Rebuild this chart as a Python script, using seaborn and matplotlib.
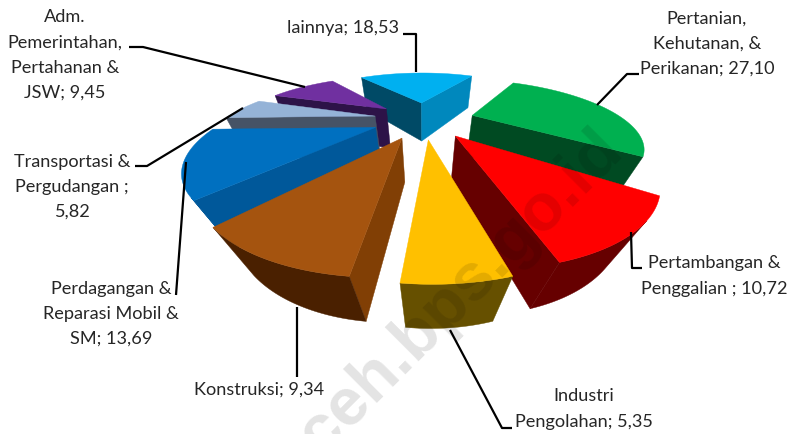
import matplotlib
matplotlib.use("Agg")
import matplotlib.pyplot as plt
import numpy as np
import seaborn as sns

# PDRB shares, clockwise from lainnya
categories = [
    "lainnya",
    "Pertanian",
    "Pertambangan",
    "Industri",
    "Konstruksi",
    "Perdagangan",
    "Transportasi",
    "Adm",
]
values = [18.53, 27.10, 10.72, 5.35, 9.34, 13.69, 5.82, 9.45]

top_colors = ["#00B0F0", "#00B050", "#FF0000", "#FFC000", "#A5540F", "#0070C0", "#95B3D7", "#7030A0"]
rim_colors = ["#005A80", "#004A22", "#660000", "#665000", "#4A2000", "#00589A", "#465366", "#2D1348"]
cut_start_colors = ["#004A66", "#004A22", "#660000", "#665000", "#813F05", "#00589A", "#465366", "#2D1348"]
cut_end_colors = ["#0088BD", "#004A22", "#660000", "#665000", "#813F05", "#00589A", "#465366", "#2D1348"]

# back to front
draw_order = [0, 7, 6, 5, 1, 2, 4, 3]

labels = [
    "lainnya; 18,53",
    "Pertanian,\nKehutanan, &\nPerikanan; 27,10",
    "Pertambangan &\nPenggalian ; 10,72",
    "Industri\nPengolahan; 5,35",
    "Konstruksi; 9,34",
    "Perdagangan &\nReparasi Mobil &\nSM; 13,69",
    "Transportasi &\nPergudangan ;\n5,82",
    "Adm.\nPemerintahan,\nPertahanan &\nJSW; 9,45",
]
label_pos = [
    (343, 28), (707, 44), (714, 276), (584, 409),
    (259, 390), (111, 314), (72, 187), (65, 55),
]
leaders = [
    [(403, 34), (416, 34), (416, 72)],
    [(639, 74), (627, 74), (597, 105)],
    [(631, 232), (632, 268), (642, 268)],
    [(450, 330), (502, 428), (512, 428)],
    [(297, 307), (297, 377)],
    [(186, 162), (176, 295)],
    [(243, 108), (147, 166), (135, 166)],
    [(305, 87), (143, 47), (129, 47)],
]

# view of the pie plane
START = -36.7
EXPLODE = 0.337
CX, CY = 424.0, 118.8
F, G, K = 150.0, 53.7, 0.424
Q, H = 0.13, 46.4


def project(x, y, low=False):
    w = 1 + K * y
    if low:
        return CX + F * x / (w + Q), CY + (-G * y + H) / (w + Q)
    return CX + F * x / w, CY - G * y / w


def area(xs, ys):
    return 0.5 * np.sum(xs * np.roll(ys, -1) - np.roll(xs, -1) * ys)


sns.set_theme(style="white")
plt.rcParams["font.family"] = ["Lato", "DejaVu Sans"]

fig, ax = plt.subplots(figsize=(7.92, 4.34), dpi=100)
ax.set_position([0, 0, 1, 1])
ax.set_xlim(0, 792)
ax.set_ylim(434, 0)
ax.axis("off")

edges = START + np.concatenate([[0], np.cumsum(values)]) / np.sum(values) * 360

for i in draw_order:
    t = np.radians(np.linspace(edges[i], edges[i + 1], 80))
    mid = np.radians((edges[i] + edges[i + 1]) / 2)
    ax0, ay0 = EXPLODE * np.sin(mid), EXPLODE * np.cos(mid)
    px, py = ax0 + np.sin(t), ay0 + np.cos(t)

    tx, ty = project(np.append(px, ax0), np.append(py, ay0))
    bx, by = project(np.append(px, ax0), np.append(py, ay0), low=True)
    apex_t = (tx[-1], ty[-1])
    apex_b = (bx[-1], by[-1])

    # side faces, only the ones turned to the viewer
    for a, color in ((0, cut_start_colors[i]), (79, cut_end_colors[i])):
        qx = np.array([apex_t[0], tx[a], bx[a], apex_b[0]])
        qy = np.array([apex_t[1], ty[a], by[a], apex_b[1]])
        sign = -area(qx, qy) if a == 79 else area(qx, qy)
        if sign < 0:
            ax.fill(qx, qy, color=color, lw=0.3)

    # rim: join the visible facets into one run
    run = []
    for j in range(79):
        qx = np.array([tx[j], tx[j + 1], bx[j + 1], bx[j]])
        qy = np.array([ty[j], ty[j + 1], by[j + 1], by[j]])
        if area(qx, qy) < 0:
            run.append(j)
    if run:
        idx = np.array(run + [run[-1] + 1])
        ax.fill(np.r_[tx[idx], bx[idx][::-1]], np.r_[ty[idx], by[idx][::-1]],
                color=rim_colors[i], lw=0.3)

    ax.fill(tx, ty, color=top_colors[i], lw=0.3)

for name, pos in zip(labels, label_pos):
    ax.text(pos[0], pos[1], name, ha="center", va="center", fontsize=13.1,
            color="#262626", linespacing=1.7, zorder=5)

for pts in leaders:
    xs, ys = zip(*pts)
    ax.plot(xs, ys, color="black", lw=1.6, zorder=4, solid_capstyle="butt")

ax.text(448, 306, "aceh.bps.go.id", rotation=45, rotation_mode="anchor",
        ha="center", va="center", fontsize=48, fontweight="bold",
        family="Liberation Sans", color="black", alpha=0.11, zorder=6)

fig.savefig("out.png", dpi=100)
